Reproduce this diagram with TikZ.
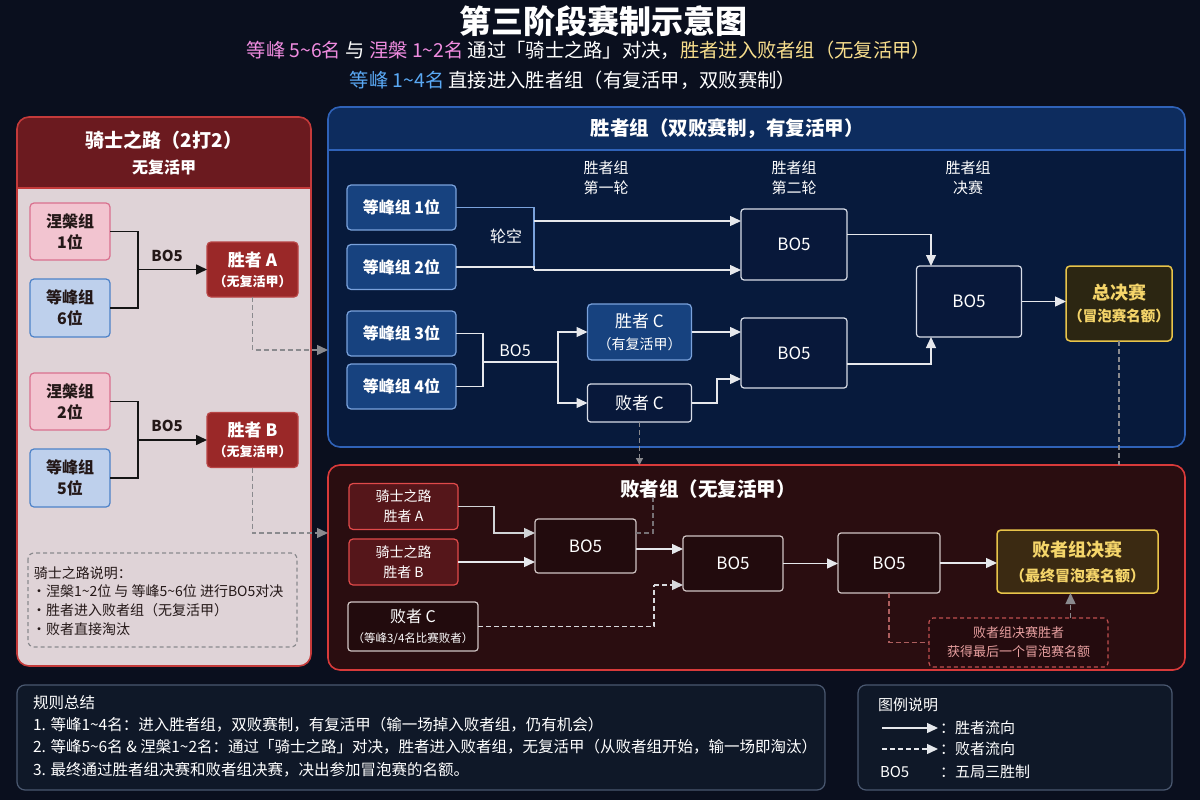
\documentclass[tikz,border=0pt]{standalone}
\usepackage{fontspec}
\setmainfont{Noto Sans CJK SC}
\usetikzlibrary{arrows.meta,calc}
\newcommand\myfs[2]{\fontsize{#1}{#2}\selectfont}
\definecolor{bg}{HTML}{0A0F1E}
\definecolor{pinkt}{HTML}{F08CE0}
\definecolor{yellowt}{HTML}{F7DD8C}
\definecolor{bluet}{HTML}{5AA9F5}
\definecolor{kbody}{HTML}{DFD3D7}
\definecolor{khead}{HTML}{6B1A1F}
\definecolor{kline}{HTML}{C43A3A}
\definecolor{pinkfill}{HTML}{F2C4D0}
\definecolor{pinkline}{HTML}{D9708E}
\definecolor{bluefill}{HTML}{BED0EC}
\definecolor{blueline}{HTML}{4D82C8}
\definecolor{darktext}{HTML}{241818}
\definecolor{redwin}{HTML}{9A2828}
\definecolor{redwinline}{HTML}{B84444}
\definecolor{wbody}{HTML}{071A3C}
\definecolor{whead}{HTML}{0D2C5E}
\definecolor{wline}{HTML}{2F62B8}
\definecolor{wbluefill}{HTML}{17427F}
\definecolor{wblueline}{HTML}{7AA2DC}
\definecolor{wdarkfill}{HTML}{08183A}
\definecolor{wdarkline}{HTML}{D8DDE8}
\definecolor{lbody}{HTML}{2A0D10}
\definecolor{lline}{HTML}{D83A3A}
\definecolor{lredfill}{HTML}{55161A}
\definecolor{lredline}{HTML}{E04A4A}
\definecolor{ldarkfill}{HTML}{220B0D}
\definecolor{ldarkline}{HTML}{D0C4C4}
\definecolor{goldline}{HTML}{E8C44A}
\definecolor{goldfillw}{HTML}{2C2612}
\definecolor{goldfilll}{HTML}{3B2A12}
\definecolor{goldt}{HTML}{F5D56A}
\definecolor{notet}{HTML}{E8A0A0}
\definecolor{noteline}{HTML}{C05050}
\definecolor{sumfill}{HTML}{0F1828}
\definecolor{sumline}{HTML}{4A5870}
\definecolor{flowc}{HTML}{E6E8EC}
\definecolor{dashc}{HTML}{8A8A8E}
\begin{document}
\begin{tikzpicture}[x=1pt,y=-1pt,
  every node/.style={inner sep=0pt,outer sep=0pt},
  box/.style={draw,rounded corners=4pt,line width=1.2pt,align=center},
  pinkbox/.style={box,fill=pinkfill,draw=pinkline,text=darktext,font=\myfs{16}{21}\bfseries,minimum width=80pt,minimum height=57pt},
  bluebox/.style={box,fill=bluefill,draw=blueline,text=darktext,font=\myfs{16}{21}\bfseries,minimum width=80pt,minimum height=58pt},
  kwin/.style={box,fill=redwin,draw=redwinline,text=white,minimum width=91pt,minimum height=55pt,font=\myfs{17}{20}},
  wblue/.style={box,fill=wbluefill,draw=wblueline,text=white,font=\myfs{16}{20}\bfseries,minimum width=109pt,minimum height=45pt},
  wdark/.style={box,fill=wdarkfill,draw=wdarkline,text=white,font=\myfs{17}{20},rounded corners=3pt},
  lred/.style={box,fill=lredfill,draw=lredline,text=white,font=\myfs{14}{20},minimum width=109pt,minimum height=46pt},
  ldark/.style={box,fill=ldarkfill,draw=ldarkline,text=white,font=\myfs{17}{20},rounded corners=3pt},
  goldbox/.style={box,draw=goldline,text=goldt,line width=1.5pt},
  lbl/.style={text=white,font=\myfs{15}{20},align=center},
  kline/.style={draw=black!92,line width=1.6pt},
  karrow/.style={kline,-{Triangle[length=11pt,width=10pt]}},
  wseg/.style={draw=flowc,line width=1.4pt},
  warrow/.style={wseg,-{Triangle[length=11pt,width=10pt]}},
  dseg/.style={draw=dashc,line width=1.4pt,dash pattern=on 5pt off 3pt},
  darrow/.style={dseg,-{Triangle[length=11pt,width=10pt,fill=dashc]}},
  ntext/.style={anchor=west,text=darktext,font=\myfs{14}{16}},
  stext/.style={anchor=west,text=white!92,font=\myfs{15.5}{18}}]

% background
\fill[bg] (0,0) rectangle (1200,800);
\useasboundingbox (0,0) rectangle (1200,800);

% title
\node[font=\myfs{32}{36}\bfseries,text=white] (title) at (603,21) {第三阶段赛制示意图};
\node[font=\myfs{19.3}{22},text=white] (sub1) at (589,50) {{\color{pinkt}等峰 5\textasciitilde6名} 与 {\color{pinkt}涅槃 1\textasciitilde2名} 通过「骑士之路」对决，{\color{yellowt}胜者进入败者组（无复活甲）}};
\node[font=\myfs{19.3}{22},text=white] (sub2) at (573,80) {{\color{bluet}等峰 1\textasciitilde4名} 直接进入胜者组（有复活甲，双败赛制）};

% ---------------- left panel ----------------
\begin{scope}
\clip[rounded corners=12pt] (17,117) rectangle (311,666);
\fill[kbody] (17,117) rectangle (311,666);
\fill[khead] (17,117) rectangle (311,188);
\end{scope}
\draw[draw=kline,line width=1.4pt] (17,188) -- (311,188);
\draw[draw=kline,line width=1.6pt,rounded corners=12pt] (17,117) rectangle (311,666);
\node[font=\myfs{19}{22}\bfseries,text=white] (khd) at (164,140) {骑士之路（2打2）};
\node[font=\myfs{16}{20}\bfseries,text=white] (khd2) at (164,167) {无复活甲};

\node[pinkbox] (n1) at (70,231.5) {涅槃组\\1位};
\node[bluebox] (p6) at (70,308) {等峰组\\6位};
\node[pinkbox] (n2) at (70,401.5) {涅槃组\\2位};
\node[bluebox] (p5) at (70,478) {等峰组\\5位};
\node[kwin] (wa) at (252.5,269.5) {{\bfseries 胜者 A}\\{\myfs{13}{20}\bfseries（无复活甲）}};
\node[kwin] (wb) at (252.5,440) {{\bfseries 胜者 B}\\{\myfs{13}{20}\bfseries（无复活甲）}};
\coordinate (ja) at (138,269.5);
\coordinate (jb) at (138,440);
\draw[kline] (n1.east) -| (ja);
\draw[kline] (p6.east) -| (ja);
\draw[karrow] (ja) -- (wa.west);
\draw[kline] (n2.east) -| (jb);
\draw[kline] (p5.east) -| (jb);
\draw[karrow] (jb) -- (wb.west);
\node[font=\myfs{15}{18}\bfseries,text=darktext] (bo5a) at (167,256) {BO5};
\node[font=\myfs{15}{18}\bfseries,text=darktext] (bo5b) at (167,426) {BO5};

\draw[draw=dashc,line width=1.2pt,dash pattern=on 4pt off 3pt,rounded corners=6pt] (28,553) rectangle (297,647);
\node[ntext] (kn1) at (34,573) {骑士之路说明：};
\node[ntext] (kn2) at (32,591) {•涅槃1\textasciitilde2位 与 等峰5\textasciitilde6位 进行BO5对决};
\node[ntext] (kn3) at (32,610) {•胜者进入败者组（无复活甲）};
\node[ntext] (kn4) at (32,629) {•败者直接淘汰};

% ---------------- winner panel ----------------
\begin{scope}
\clip[rounded corners=12pt] (328,107) rectangle (1185,447);
\fill[wbody] (328,107) rectangle (1185,447);
\fill[whead] (328,107) rectangle (1185,150);
\end{scope}
\draw[draw=wline,line width=1.4pt] (328,150) -- (1185,150);
\draw[draw=wline,line width=1.6pt,rounded corners=12pt] (328,107) rectangle (1185,447);
\node[font=\myfs{19.5}{22}\bfseries,text=white] (whd) at (727,129) {胜者组（双败赛制，有复活甲）};
\node[lbl] (h1) at (606,178) {胜者组\\第一轮};
\node[lbl] (h2) at (794,178) {胜者组\\第二轮};
\node[lbl] (h3) at (968,178) {胜者组\\决赛};

\node[wblue] (p1) at (401.5,207.5) {等峰组 1位};
\node[wblue] (p2) at (401.5,267) {等峰组 2位};
\node[wblue] (p3) at (401.5,333.5) {等峰组 3位};
\node[wblue] (p4) at (401.5,386.5) {等峰组 4位};

\node[wdark,minimum width=106pt,minimum height=71pt] (r2a) at (794,244.5) {BO5};
\node[wdark,minimum width=106pt,minimum height=70pt] (r2b) at (794,353) {BO5};
\node[wdark,minimum width=105pt,minimum height=71pt] (wf) at (969,301.5) {BO5};
\node[goldbox,fill=goldfillw,minimum width=106pt,minimum height=75pt,font=\myfs{18}{22}] (gf) at (1119,303.5) {{\bfseries 总决赛}\\{\myfs{14.5}{22}\bfseries（冒泡赛名额）}};
\node[box,fill=wbluefill,draw=wblueline,text=white,minimum width=104pt,minimum height=56pt,font=\myfs{17}{22}] (wc) at (639.5,332) {胜者 C\\{\myfs{14}{22}（有复活甲）}};
\node[wdark,minimum width=104pt,minimum height=38pt,font=\myfs{17}{20}] (lc) at (639.5,403) {败者 C};

\coordinate (bt) at (534,221);
\coordinate (bb) at (534,270);
\draw[wseg,draw=wblueline] (p1.east) -| (bb);
\draw[wseg] (p2.east) -| (bb);
\draw[warrow] (bt) -- (bt -| r2a.west);
\draw[warrow] (bb) -- (bb -| r2a.west);
\node[lbl,font=\myfs{16}{20}] (bye) at (506,236) {轮空};

\coordinate (j34) at (483,362);
\coordinate (s34) at (558,362);
\draw[wseg] (p3.east) -| (j34);
\draw[wseg] (p4.east) -| (j34);
\draw[wseg] (j34) -- (s34);
\draw[warrow] (s34) |- (wc.west);
\draw[warrow] (s34) |- (lc.west);
\node[lbl,font=\myfs{16}{20}] (bo5c) at (515,351) {BO5};

\draw[warrow] (wc.east) -- (wc.east -| r2b.west);
\coordinate (lcr) at (717,379);
\draw[warrow] (lc.east) -| (lcr) -- (lcr -| r2b.west);
\draw[warrow] ([yshift=10pt]r2a.east) -| ([xshift=-38pt]wf.north);
\draw[warrow] ([yshift=-11pt]r2b.east) -| ([xshift=-38pt]wf.south);
\draw[warrow] (wf.east) -- (gf.west |- wf.east);

% ---------------- loser panel ----------------
\draw[fill=lbody,draw=lline,line width=1.6pt,rounded corners=12pt] (328,465) rectangle (1185,670);
\node[font=\myfs{19.5}{22}\bfseries,text=white] (lhd) at (708,489) {败者组（无复活甲）};

\node[lred] (la) at (403.5,506.5) {骑士之路\\胜者 A};
\node[lred] (lb) at (403.5,562) {骑士之路\\胜者 B};
\node[ldark,minimum width=130pt,minimum height=49pt,font=\myfs{16}{20}] (lcc) at (413,626.5) {败者 C\\{\myfs{11.5}{20}（等峰3/4名比赛败者）}};
\node[ldark,minimum width=101pt,minimum height=54pt] (l1) at (585.5,546) {BO5};
\node[ldark,minimum width=100pt,minimum height=55pt] (l2) at (733,563.5) {BO5};
\node[ldark,minimum width=102pt,minimum height=60pt] (l3) at (889,563) {BO5};
\node[goldbox,fill=goldfilll,minimum width=161pt,minimum height=63pt,font=\myfs{18}{25}] (lf) at (1077.5,561.5) {{\bfseries 败者组决赛}\\{\myfs{15}{25}\bfseries（最终冒泡赛名额）}};
\node[draw=noteline,line width=1.2pt,dash pattern=on 4pt off 3pt,rounded corners=4pt,fill=lbody!85!black,minimum width=179pt,minimum height=49pt,align=center,text=notet,font=\myfs{13}{19}] (note) at (1018.5,642.5) {败者组决赛胜者\\获得最后一个冒泡赛名额};

\coordinate (laj) at (494,533);
\draw[warrow,draw=flowc!80!gray] (la.east) -| (laj) -- (laj -| l1.west);
\draw[warrow] (lb.east) -- (lb.east -| l1.west);
\draw[warrow] ([yshift=-3pt]l1.east) -- ([yshift=-3pt]l1.east -| l2.west);
\coordinate (lcj) at (654,585);
\draw[dseg,draw=flowc!85!gray] (lcc.east) -| (lcj);
\draw[dseg,draw=flowc!85!gray,-{Triangle[length=11pt,width=10pt]}] (lcj) -- (lcj -| l2.west);
\coordinate (lodd) at (653,497);
\draw[dseg,draw=dashc!80!lbody] ([yshift=13pt]l1.east) -| (lodd);
\draw[warrow] (l2.east) -- (l2.east -| l3.west);
\draw[warrow] (l3.east) -- (l3.east -| lf.west);
\draw[dseg,draw=noteline!70!gray] (l3.south) |- (note.west);
\draw[darrow] ([xshift=52pt]note.north) -- ([xshift=52pt]note.north |- lf.south);

% cross-panel dashed links
\coordinate (wpin) at (328,350);
\coordinate (lpin) at (328,533);
\draw[darrow] (wa.south) |- (wpin);
\draw[darrow] (wb.south) |- (lpin);
\coordinate (lcdown) at (639.5,465);
\draw[dseg,-{Triangle[length=7pt,width=7pt,fill=dashc]}] (lc.south) -- (lcdown);
\coordinate (gfdown) at (1119,465);
\draw[dseg] (gf.south) -- (gfdown);

% ---------------- summary ----------------
\draw[fill=sumfill,draw=sumline,line width=1.2pt,rounded corners=8pt] (17,685) rectangle (825,790);
\node[stext] (s0) at (33,703) {规则总结};
\node[stext] (s1) at (33,725) {1. 等峰1\textasciitilde4名：进入胜者组，双败赛制，有复活甲（输一场掉入败者组，仍有机会）};
\node[stext] (s2) at (33,747) {2. 等峰5\textasciitilde6名 \& 涅槃1\textasciitilde2名：通过「骑士之路」对决，胜者进入败者组，无复活甲（从败者组开始，输一场即淘汰）};
\node[stext] (s3) at (33,770) {3. 最终通过胜者组决赛和败者组决赛，决出参加冒泡赛的名额。};

% ---------------- legend ----------------
\draw[fill=sumfill,draw=sumline,line width=1.2pt,rounded corners=8pt] (858,685) rectangle (1172,790);
\node[stext,font=\myfs{15}{18}] (g0) at (878,705) {图例说明};
\coordinate (ga1) at (882,728);
\coordinate (ga2) at (938,728);
\draw[warrow] (ga1) -- (ga2);
\node[stext,font=\myfs{15}{18}] (g1) at (940,728) {：胜者流向};
\coordinate (gb1) at (882,749);
\coordinate (gb2) at (938,749);
\draw[dseg,draw=flowc,-{Triangle[length=11pt,width=10pt]}] (gb1) -- (gb2);
\node[stext,font=\myfs{15}{18}] (g2) at (940,749) {：败者流向};
\node[stext,font=\myfs{15}{18}] (g3) at (880,772) {BO5};
\node[stext,font=\myfs{15}{18}] (g4) at (940,772) {：五局三胜制};
\end{tikzpicture}
\end{document}
